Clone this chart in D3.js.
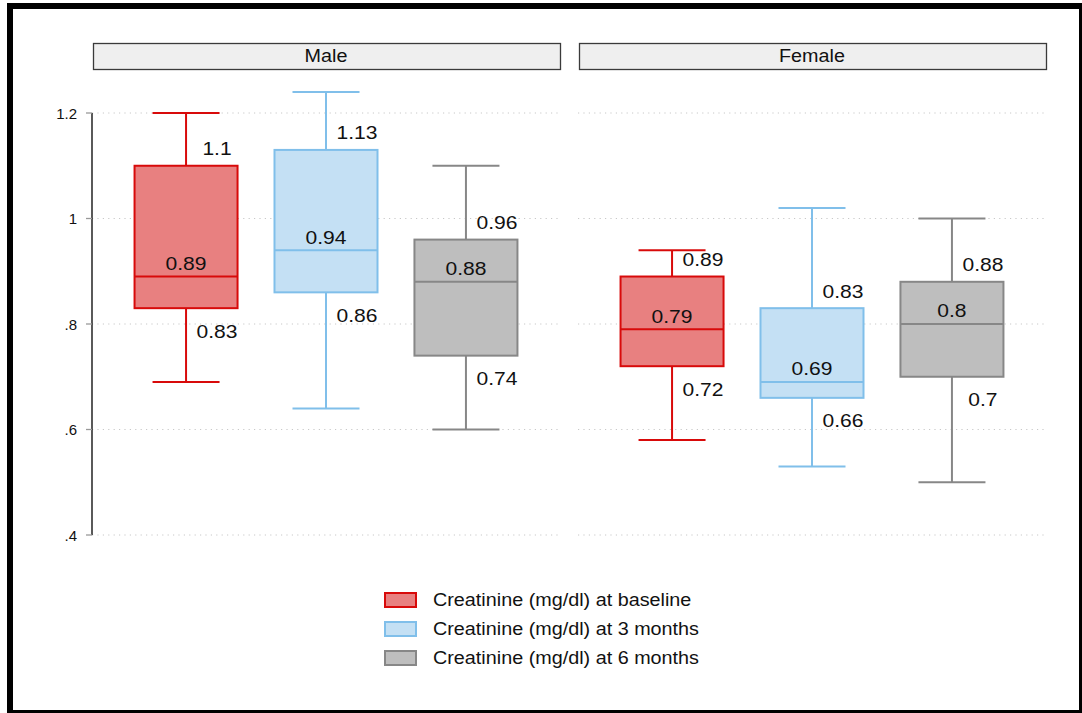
<!DOCTYPE html>
<html>
<head>
<meta charset="utf-8">
<script src="https://cdn.jsdelivr.net/npm/d3@7"></script>
<style>
  html, body { margin: 0; padding: 0; background: #fff; }
  svg { display: block; font-family: "Liberation Sans", Arial, sans-serif; }
</style>
</head>
<body>
<svg id="chart" width="1082" height="713"></svg>
<script>
// Panels, timepoints and the five-number summaries per panel
const panels = ["Male", "Female"];
const timepoints = ["baseline", "3 months", "6 months"];
const legendLabels = [
  "Creatinine (mg/dl) at baseline",
  "Creatinine (mg/dl) at 3 months",
  "Creatinine (mg/dl) at 6 months"
];
// [lower whisker, q1, median, q3, upper whisker]
const maleStats = [
  [0.69, 0.83, 0.89, 1.10, 1.20],
  [0.64, 0.86, 0.94, 1.13, 1.24],
  [0.60, 0.74, 0.88, 0.96, 1.10]
];
const femaleStats = [
  [0.58, 0.72, 0.79, 0.89, 0.94],
  [0.53, 0.66, 0.69, 0.83, 1.02],
  [0.50, 0.70, 0.80, 0.88, 1.00]
];
const yTicks = [0.4, 0.6, 0.8, 1.0, 1.2];
const yTickLabels = [".4", ".6", ".8", "1", "1.2"];

const fills = ["#e88080", "#c4e0f4", "#bebebe"];
const strokes = ["#d80a0a", "#80bfea", "#878787"];

const svg = d3.select("#chart");

// text drawn with a slightly widened face
function wideText(parent, x, y, str, size, sx, anchor) {
  return parent.append("g")
    .attr("transform", `translate(${x},${y}) scale(${sx},1)`)
    .append("text")
    .attr("text-anchor", anchor || "middle")
    .attr("dominant-baseline", "central")
    .attr("font-size", size).attr("fill", "#111")
    .text(str);
}

// outer frame
svg.append("rect")
  .attr("x", 10).attr("y", 6).attr("width", 1072).attr("height", 707)
  .attr("fill", "none").attr("stroke", "#000").attr("stroke-width", 6);

const y = d3.scaleLinear().domain([0.4, 1.2]).range([535, 113]);

const panelX = [92, 578];
const panelW = 468;
const x = d3.scalePoint().domain(timepoints).range([0, panelW]).padding(0.672);
const boxW = 103;
const capW = 67;

const statsByPanel = [maleStats, femaleStats];
const fmt = d3.format(".2~f");

panels.forEach((name, pi) => {
  const g = svg.append("g").attr("transform", `translate(${panelX[pi]},0)`);

  // strip header
  g.append("rect")
    .attr("x", 1.5).attr("y", 43.5).attr("width", panelW - 1).attr("height", 26)
    .attr("fill", "#efefef").attr("stroke", "#3a3a3a").attr("stroke-width", 1.3);
  wideText(g, panelW / 2, 55.5, name, 17.5, 1.13);

  // dotted gridlines
  g.selectAll("line.grid").data(yTicks).join("line")
    .attr("class", "grid")
    .attr("x1", 0).attr("x2", panelW)
    .attr("y1", d => y(d)).attr("y2", d => y(d))
    .attr("stroke", "#c8c8c8").attr("stroke-width", 1)
    .attr("stroke-dasharray", "1.2,4.2");

  const stats = statsByPanel[pi];
  timepoints.forEach((t, ti) => {
    const [lo, q1, med, q3, hi] = stats[ti];
    const cx = x(t);
    const bg = g.append("g");
    const seg = (x1, x2, y1, y2) => bg.append("line")
      .attr("x1", x1).attr("x2", x2).attr("y1", y1).attr("y2", y2)
      .attr("stroke", strokes[ti]).attr("stroke-width", 2);
    // whiskers and caps
    seg(cx, cx, y(hi), y(q3));
    seg(cx, cx, y(q1), y(lo));
    seg(cx - capW / 2, cx + capW / 2, y(hi), y(hi));
    seg(cx - capW / 2, cx + capW / 2, y(lo), y(lo));
    // box
    bg.append("rect")
      .attr("x", cx - boxW / 2).attr("y", y(q3))
      .attr("width", boxW).attr("height", y(q1) - y(q3))
      .attr("fill", fills[ti]).attr("stroke", strokes[ti]).attr("stroke-width", 2);
    // median
    seg(cx - boxW / 2, cx + boxW / 2, y(med), y(med));

    // value labels
    wideText(bg, cx, y(med) - 13, fmt(med), 18, 1.17);
    wideText(bg, cx + 31, y(q3) - 17, fmt(q3), 18, 1.17);
    wideText(bg, cx + 31, y(q1) + 23, fmt(q1), 18, 1.17);
  });
});

// y axis on the left panel
const axisG = svg.append("g").attr("transform", `translate(${panelX[0]},0)`);
axisG.append("line").attr("x1", 0).attr("x2", 0).attr("y1", y(1.2)).attr("y2", y(0.4))
  .attr("stroke", "#000").attr("stroke-width", 1.3);
axisG.selectAll("line.tick").data(yTicks).join("line")
  .attr("class", "tick")
  .attr("x1", -6).attr("x2", 0)
  .attr("y1", d => y(d)).attr("y2", d => y(d))
  .attr("stroke", "#999").attr("stroke-width", 1.3);
axisG.selectAll("text.tick").data(yTicks).join("text")
  .attr("class", "tick")
  .attr("x", -15).attr("y", d => y(d))
  .attr("text-anchor", "end").attr("dominant-baseline", "central")
  .attr("font-size", 15).attr("fill", "#111")
  .text((d, i) => yTickLabels[i]);

// legend
const lg = svg.append("g").attr("transform", "translate(384,600)");
legendLabels.forEach((l, i) => {
  lg.append("rect")
    .attr("x", 1).attr("y", i * 29 - 7).attr("width", 31).attr("height", 14)
    .attr("fill", fills[i]).attr("stroke", strokes[i]).attr("stroke-width", 2);
  wideText(lg, 49, i * 29, l, 18.5, 1.07, "start");
});
</script>
</body>
</html>
